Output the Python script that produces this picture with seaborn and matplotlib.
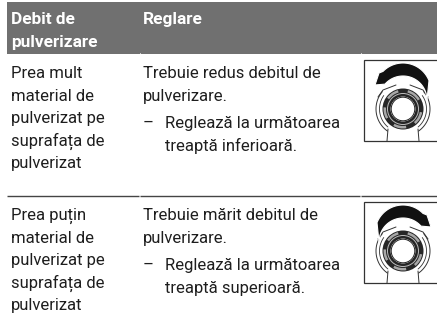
import numpy as np
import matplotlib
matplotlib.use('Agg')
import matplotlib.pyplot as plt
from matplotlib.patches import Circle, Polygon, Rectangle, Wedge
import seaborn as sns

# table text
headers = [['Debit de', 'pulverizare'], ['Reglare']]
row1_left = ['Prea mult', 'material de', 'pulverizat pe', 'suprafața de', 'pulverizat']
row2_left = ['Prea puțin', 'material de', 'pulverizat pe', 'suprafața de', 'pulverizat']
row1_mid = ['Trebuie redus debitul de', 'pulverizare.']
row2_mid = ['Trebuie mărit debitul de', 'pulverizare.']
row1_step = ['Reglează la următoarea', 'treaptă inferioară.']
row2_step = ['Reglează la următoarea', 'treaptă superioară.']

sns.set_theme(style='white')
plt.rcParams['font.family'] = ['Roboto', 'DejaVu Sans']

fig = plt.figure(figsize=(4.37, 3.35), dpi=100)
ax = fig.add_axes([0, 0, 1, 1])
ax.set_xlim(0, 437)
ax.set_ylim(335, 0)
ax.axis('off')
sns.despine(ax=ax, left=True, bottom=True)

FS = 12.0
LINE = 22.6
INK = '#1e1e1e'
BAND = '#707070'
X1, X2, X3 = 11, 143, 165


def lines(x, y, items, **kw):
    for i, s in enumerate(items):
        ax.text(x, y + i * LINE, s, va='baseline', ha='left', fontsize=FS, color=INK, **kw)


def knob(cy, flip):
    cx = 403
    top = cy - 49.5
    ax.add_patch(Rectangle((364, top), 80, 81.5, fc='white', ec='#333333', lw=0.9, joinstyle='miter'))
    sx = -1 if flip else 1

    # housing
    for s in (-1, 1):
        t = np.radians(np.linspace(-55, 40, 40))
        ax.plot(cx + s * 27 * np.cos(t), cy - 27 * np.sin(t), color='#333333', lw=0.7)
        t = np.radians(np.linspace(-50, 35, 40))
        ax.plot(cx + s * 23.5 * np.cos(t), cy - 23.5 * np.sin(t), color='#333333', lw=0.6)
        ax.plot([cx + s * 15, cx + s * 16], [cy + 20, cy + 32], color='#333333', lw=0.7)
        ax.plot([cx + s * 7, cx + s * 20, cx + s * 25], [cy - 24, cy - 19, cy - 12], color='#333333', lw=0.7)

    # ring with light flecks
    ax.add_patch(Circle((cx, cy), 20.5, fc='#262626', ec='none', zorder=3))
    for a0, a1 in [(10, 50), (80, 120), (150, 185), (215, 255), (285, 330)]:
        ax.add_patch(Wedge((cx, cy), 19.5, a0, a1, width=2.5, fc='#a8a8a8', ec='none', zorder=4))
    ax.add_patch(Circle((cx, cy), 15.5, fc='none', ec='#bdbdbd', lw=0.7, zorder=4))
    ax.add_patch(Circle((cx, cy), 13.2, fc='white', ec='#222222', lw=1.0, zorder=4))
    ax.add_patch(Circle((cx, cy), 11.8, fc='white', ec='#222222', lw=0.7, zorder=4))

    # arrow, band that gets thicker towards the head
    ox = np.linspace(26, -20, 50)
    oy = cy - 18 - np.sqrt(784 - ox ** 2)
    ix = np.linspace(-18, 24, 50)
    iy = cy - 9 - np.sqrt(576 - ix ** 2)
    px = np.r_[ox, [-24, -28], ix]
    py = np.r_[oy, [cy - 36, cy - 24], iy]
    pts = np.column_stack([cx + sx * px, py])
    ax.add_patch(Polygon(pts, closed=True, fc='#111111', ec='white', lw=0.8, zorder=5))


# header band
ax.add_patch(Rectangle((7, 2), 430, 52, fc=BAND, ec='none'))
for x in (139.5, 360.5):
    ax.plot([x, x], [52.5, 54], color='white', lw=0.6)
for i, s in enumerate(headers[0]):
    ax.text(X1, 24 + i * 23.5, s, color='white', fontsize=FS + 0.4, fontweight='bold', va='baseline')
ax.text(X2, 24, headers[1][0], color='white', fontsize=FS + 0.4, fontweight='bold', va='baseline')

# row 1
lines(X1, 78, row1_left)
lines(X2, 78, row1_mid)
ax.text(X2, 128, '–', fontsize=FS, color=INK, va='baseline')
lines(X3, 128, row1_step)
knob(109, False)

# rule
for x0, x1 in [(7, 139), (140, 360), (361, 437)]:
    ax.plot([x0, x1], [196, 196], color='#444444', lw=1.0, solid_capstyle='butt')

# row 2
lines(X1, 220, row2_left)
lines(X2, 220, row2_mid)
ax.text(X2, 270, '–', fontsize=FS, color=INK, va='baseline')
lines(X3, 270, row2_step)
knob(251, True)

fig.savefig('out.png', dpi=100)
